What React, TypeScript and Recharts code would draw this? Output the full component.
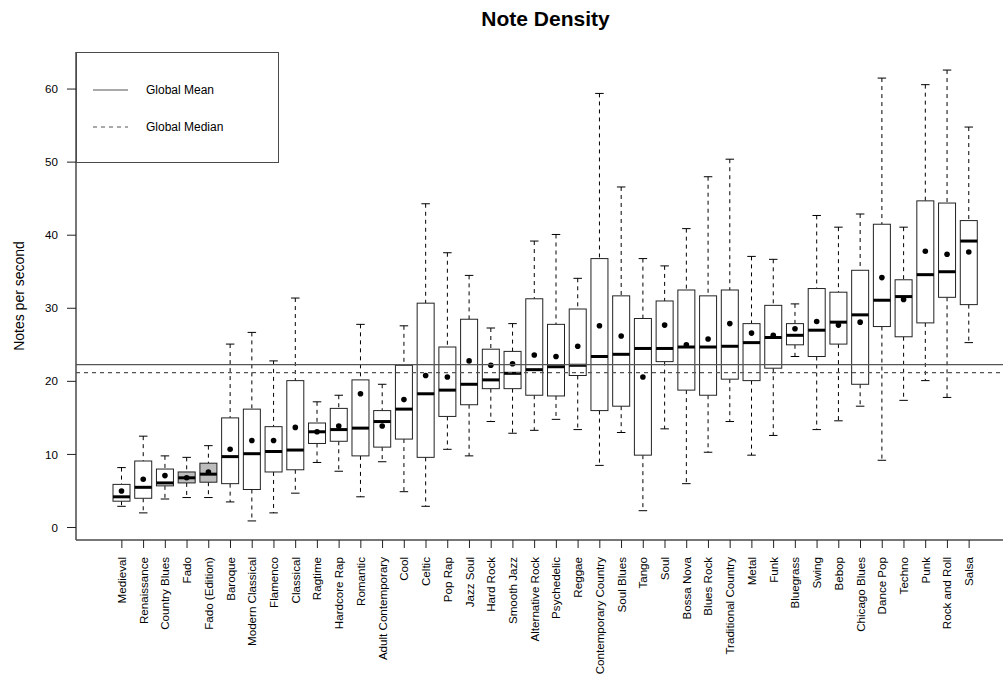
import React from "react";
import { ComposedChart, Bar, XAxis, YAxis, ReferenceLine, Legend } from "recharts";

const genres = [
  "Medieval", "Renaissance", "Country Blues", "Fado", "Fado (Edition)", "Baroque",
  "Modern Classical", "Flamenco", "Classical", "Ragtime", "Hardcore Rap", "Romantic",
  "Adult Contemporary", "Cool", "Celtic", "Pop Rap", "Jazz Soul", "Hard Rock",
  "Smooth Jazz", "Alternative Rock", "Psychedelic", "Reggae", "Contemporary Country",
  "Soul Blues", "Tango", "Soul", "Bossa Nova", "Blues Rock", "Traditional Country",
  "Metal", "Funk", "Bluegrass", "Swing", "Bebop", "Chicago Blues", "Dance Pop",
  "Techno", "Punk", "Rock and Roll", "Salsa",
];

const whiskerLow = [
  2.9, 2.0, 3.9, 4.1, 4.1, 3.5, 0.9, 2.0, 4.7, 8.9, 7.7, 4.2, 9.0, 4.9, 2.9, 10.7,
  9.8, 14.5, 12.9, 13.3, 14.8, 13.4, 8.5, 13.0, 2.3, 13.5, 6.0, 10.3, 14.5, 9.9,
  12.6, 23.4, 13.4, 14.6, 16.6, 9.2, 17.4, 20.1, 17.8, 25.3,
];
const lowerQuartile = [
  3.6, 4.0, 5.7, 6.1, 6.2, 6.0, 5.2, 7.6, 7.9, 11.5, 11.8, 9.8, 11.0, 12.1, 9.6, 15.2,
  16.8, 19.0, 19.0, 18.1, 18.0, 20.8, 16.0, 16.6, 9.9, 22.7, 18.8, 18.1, 20.3, 20.1,
  21.8, 25.0, 23.4, 25.1, 19.6, 27.5, 26.1, 28.0, 31.5, 30.5,
];
const medians = [
  4.2, 5.5, 6.1, 6.8, 7.3, 9.7, 10.1, 10.4, 10.6, 13.1, 13.4, 13.6, 14.5, 16.2, 18.3,
  18.8, 19.6, 20.2, 21.1, 21.6, 22.0, 22.2, 23.4, 23.7, 24.5, 24.5, 24.7, 24.7, 24.8,
  25.3, 26.0, 26.3, 27.0, 28.1, 29.1, 31.1, 31.6, 34.6, 35.0, 39.2,
];
const upperQuartile = [
  5.9, 9.1, 8.0, 7.6, 8.8, 15.0, 16.2, 13.8, 20.1, 14.3, 16.3, 20.2, 16.0, 22.2, 30.7,
  24.7, 28.5, 24.4, 24.1, 31.3, 27.8, 29.9, 36.8, 31.7, 28.6, 31.0, 32.5, 31.7, 32.5,
  27.9, 30.4, 27.9, 32.7, 32.2, 35.2, 41.5, 33.9, 44.7, 44.4, 42.0,
];
const whiskerHigh = [
  8.2, 12.5, 9.8, 9.6, 11.2, 25.1, 26.7, 22.8, 31.4, 17.2, 18.1, 27.8, 19.6, 27.6,
  44.3, 37.6, 34.5, 27.3, 27.9, 39.2, 40.1, 34.1, 59.4, 46.6, 36.8, 35.8, 40.9, 48.0,
  50.4, 37.1, 36.7, 30.6, 42.7, 41.1, 42.9, 61.5, 41.1, 60.6, 62.6, 54.8,
];
const means = [
  5.0, 6.6, 7.1, 6.8, 7.6, 10.7, 11.9, 11.9, 13.7, 13.1, 13.9, 18.3, 13.9, 17.5, 20.8,
  20.6, 22.8, 22.2, 22.4, 23.6, 23.4, 24.8, 27.6, 26.2, 20.6, 27.7, 25.0, 25.8, 27.9,
  26.6, 26.3, 27.2, 28.2, 27.7, 28.1, 34.2, 31.2, 37.8, 37.4, 37.7,
];
const shadedGenres = ["Fado", "Fado (Edition)"];

const globalMean = 22.3;
const globalMedian = 21.2;
const yTicks = [0, 10, 20, 30, 40, 50, 60];

const FONT = '"Liberation Sans", Arial, Helvetica, sans-serif';
const FRAME = "#4a4a4a";
const DASH = "4 4";

const rows = genres.map((name, i) => ({
  name,
  lo: whiskerLow[i],
  q1: lowerQuartile[i],
  med: medians[i],
  q3: upperQuartile[i],
  hi: whiskerHigh[i],
  mean: means[i],
  shaded: shadedGenres.includes(name),
}));

// one box per genre, drawn inside the range bar [lo, hi]
function BoxGlyph(props: any) {
  const { x, y, width, height, payload } = props;
  if (!payload || width == null) return null;
  const top = Math.min(y, y + height);
  const bottom = Math.max(y, y + height);
  const span = payload.hi - payload.lo;
  const py = (v: number) => top + ((payload.hi - v) / span) * (bottom - top);
  const cx = x + width / 2;
  const cap = width / 4;
  const yq3 = py(payload.q3);
  const yq1 = py(payload.q1);
  return (
    <g>
      <line x1={cx} x2={cx} y1={top} y2={yq3} stroke="#000" strokeDasharray={DASH} />
      <line x1={cx} x2={cx} y1={yq1} y2={bottom} stroke="#000" strokeDasharray={DASH} />
      <line x1={cx - cap} x2={cx + cap} y1={top} y2={top} stroke="#000" />
      <line x1={cx - cap} x2={cx + cap} y1={bottom} y2={bottom} stroke="#000" />
      <rect
        x={x}
        y={yq3}
        width={width}
        height={yq1 - yq3}
        fill={payload.shaded ? "#bdbdbd" : "#fff"}
        stroke="#222"
        strokeWidth={1}
      />
      <line x1={x} x2={x + width} y1={py(payload.med)} y2={py(payload.med)} stroke="#000" strokeWidth={3} />
      <circle cx={cx} cy={py(payload.mean)} r={2.8} fill="#000" />
    </g>
  );
}

function GenreTick(props: any) {
  const { x, y, payload } = props;
  return (
    <text
      x={x}
      y={y}
      dy="0.35em"
      transform={`rotate(-90 ${x} ${y})`}
      textAnchor="end"
      fontSize={11.6}
      fontFamily={FONT}
      fill="#000"
    >
      {payload.value}
    </text>
  );
}

function YTitle(props: any) {
  const vb = props.viewBox || { x: 0, y: 52, width: 76, height: 488 };
  const cx = vb.x + 19;
  const cy = vb.y + vb.height / 2;
  return (
    <text
      x={cx}
      y={cy}
      dy="0.35em"
      transform={`rotate(-90 ${cx} ${cy})`}
      textAnchor="middle"
      fontSize={14}
      fontFamily={FONT}
      fill="#000"
    >
      Notes per second
    </text>
  );
}

function LegendBox() {
  return (
    <div
      style={{
        boxSizing: "border-box",
        width: 203,
        height: 111,
        border: `1px solid ${FRAME}`,
        background: "#fff",
        fontFamily: FONT,
        fontSize: 12,
        position: "relative",
      }}
    >
      {[
        { label: "Global Mean", dash: undefined, top: 37 },
        { label: "Global Median", dash: DASH, top: 74 },
      ].map((item) => (
        <div key={item.label} style={{ position: "absolute", left: 0, top: item.top - 8, height: 16, width: 200 }}>
          <svg width={40} height={16} style={{ position: "absolute", left: 16, top: 0 }}>
            <line x1={0} x2={35} y1={8} y2={8} stroke="#555" strokeWidth={1.2} strokeDasharray={item.dash} />
          </svg>
          <span style={{ position: "absolute", left: 69, top: 0, lineHeight: "16px", color: "#000" }}>
            {item.label}
          </span>
        </div>
      ))}
    </div>
  );
}

export default function App() {
  return (
    <div
      style={{
        position: "absolute",
        left: 0,
        top: 0,
        width: 1003,
        height: 678,
        overflow: "hidden",
        background: "#fff",
        fontFamily: FONT,
      }}
    >
      <div
        style={{
          position: "absolute",
          left: 76,
          width: 939,
          top: 8,
          textAlign: "center",
          fontWeight: "bold",
          fontSize: 21,
          lineHeight: "21px",
          color: "#000",
        }}
      >
        Note Density
      </div>
      <ComposedChart
        width={1020}
        height={678}
        data={rows}
        margin={{ top: 52, right: 5, bottom: 0, left: 0 }}
      >
        <XAxis
          dataKey="name"
          interval={0}
          padding={{ left: 35, right: 35 }}
          tick={<GenreTick />}
          tickSize={8}
          tickMargin={9}
          height={138}
          stroke={FRAME}
          axisLine={{ stroke: FRAME, strokeWidth: 1.5 }}
          tickLine={{ stroke: "#222" }}
        />
        <XAxis
          xAxisId="top"
          orientation="top"
          dataKey="name"
          height={0}
          tick={false}
          tickLine={false}
          axisLine={{ stroke: FRAME, strokeWidth: 1.5 }}
        />
        <YAxis
          type="number"
          domain={[-1.71, 65.07]}
          allowDataOverflow
          ticks={yTicks}
          interval={0}
          width={76}
          tickSize={9}
          tickMargin={9}
          stroke={FRAME}
          axisLine={{ stroke: FRAME, strokeWidth: 1.5 }}
          tickLine={{ stroke: "#222" }}
          tick={{ fontSize: 11.6, fill: "#000", fontFamily: FONT }}
          label={<YTitle />}
        />
        <ReferenceLine y={globalMean} stroke="#555" strokeWidth={1.2} />
        <ReferenceLine y={globalMedian} stroke="#555" strokeWidth={1.2} strokeDasharray={DASH} />
        <Legend
          layout="vertical"
          align="center"
          verticalAlign="middle"
          content={() => <LegendBox />}
          wrapperStyle={{ left: 76, top: 52, width: 203, height: 111 }}
        />
        <Bar
          dataKey={(r: any) => [r.lo, r.hi]}
          barSize={17}
          shape={(p: any) => <BoxGlyph {...p} />}
          isAnimationActive={false}
        />
      </ComposedChart>
    </div>
  );
}
